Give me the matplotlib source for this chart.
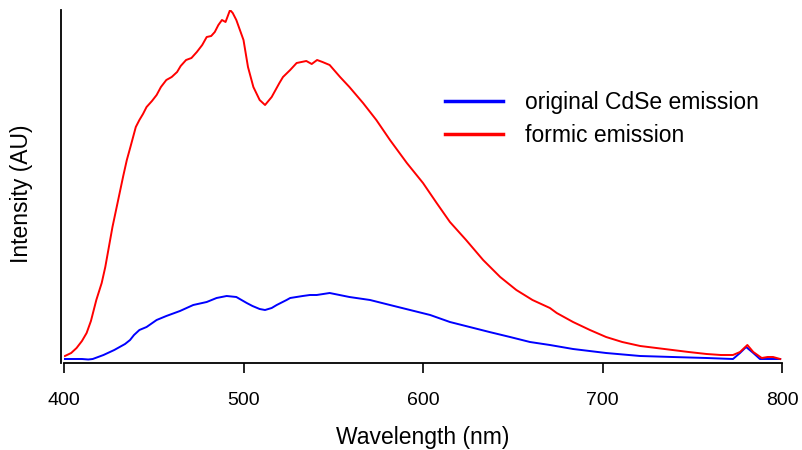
import matplotlib
matplotlib.use("Agg")
import matplotlib.pyplot as plt

plt.rcParams['font.family'] = ['Liberation Sans', 'DejaVu Sans']

# emission spectra (arbitrary units)
wl_formic = [400.5, 404, 407, 410, 412.6, 415, 418, 421, 423, 425, 427, 429, 431, 433, 435,
             437, 438.5, 440, 442, 444, 446, 449, 451.6, 454, 457, 460, 463, 465, 468,
             471, 474, 477, 479.5, 482, 484, 486, 488, 490, 492.5, 494, 496, 498, 500,
             502.5, 505.5, 509, 512, 515.7, 520, 522, 526, 529.6, 535, 538, 541, 544,
             548, 553.8, 559, 566.6, 574, 581.6, 591, 600, 607.6, 615, 624, 633.5, 643,
             652, 661, 670.7, 674.5, 683.6, 693, 702, 711, 721, 730, 739, 748, 758,
             766, 772.7, 776.6, 780.7, 784, 788.7, 792, 795, 799]
int_formic = [7, 10, 15, 22, 30, 42, 63, 80, 96, 116, 136, 153, 170, 187, 203,
              216, 226, 236, 243, 249, 256, 262, 268, 276, 283, 286, 291, 297, 303,
              305, 311, 318, 326, 327, 331, 338, 343, 341, 353, 350, 343, 333, 323,
              296, 276, 263, 258, 266, 280, 286, 293, 300, 302, 299, 303, 301,
              298, 286, 276, 260, 243, 223, 200, 180, 160, 141, 123, 103, 86,
              73, 63, 55, 50, 41, 33, 26, 21, 17, 15, 13, 11, 9,
              8, 8, 11, 18, 11, 5, 6, 6, 4]

wl_cdse = [400.5, 404, 407, 410, 413.5, 416, 419, 422, 425.6, 428, 431, 434, 436.8, 439,
           442, 446, 451.6, 457, 464.6, 472, 479.5, 485, 490.6, 496, 501.8, 505, 509,
           512, 515.7, 518.5, 524, 526, 533, 537, 540.8, 548, 559, 570.5, 581.6,
           592.8, 604, 615, 626, 637, 648.5, 659.6, 670.7, 683.6, 702, 721, 739,
           758, 772.7, 776.6, 780, 784, 787.7, 792, 799]
int_cdse = [4, 4, 4, 4, 3.5, 4, 6, 8, 11, 13, 16, 19, 23, 28,
            33, 36, 43, 47, 52, 58, 61, 65, 67, 66, 60, 57, 54,
            53, 55, 58, 63, 65, 67, 68, 68, 70, 66, 63, 58,
            53, 48, 41, 36, 31, 26, 21, 18, 14, 10, 7, 6,
            5, 4, 10, 16, 10, 4, 4, 4]

fig = plt.figure(figsize=(8.02, 4.5), dpi=100)
ax = fig.add_axes([64 / 802, 87 / 450, 718 / 802, 353 / 450])

ax.plot(wl_cdse, int_cdse, color='#0000ff', lw=1.4, label='original CdSe emission')
ax.plot(wl_formic, int_formic, color='#ff0000', lw=1.4, label='formic emission')

ax.set_xlim(400, 800)
ax.set_ylim(0, 353)
ax.set_xticks([400, 500, 600, 700, 800])
ax.set_yticks([])

for s in ['top', 'right']:
    ax.spines[s].set_visible(False)
ax.spines['left'].set_position(('outward', 2))
ax.spines['left'].set_linewidth(1.3)
ax.spines['bottom'].set_linewidth(1.3)
ax.tick_params(axis='x', direction='out', length=7.5, width=1.2, pad=13.5, labelsize=14)

ax.set_xlabel('Wavelength (nm)', fontsize=16.5, labelpad=12)
ax.set_ylabel('Intensity (AU)', fontsize=16.5)
ax.yaxis.set_label_coords(-0.043, 0.479)

leg = ax.legend(loc='upper left', bbox_to_anchor=(0.531, 0.770), frameon=False, fontsize=16.5,
                handlelength=2.5, handletextpad=1.0, labelspacing=0.42,
                borderpad=0, borderaxespad=0)
for line in leg.get_lines():
    line.set_linewidth(2.5)

fig.savefig('out.png', dpi=100)
